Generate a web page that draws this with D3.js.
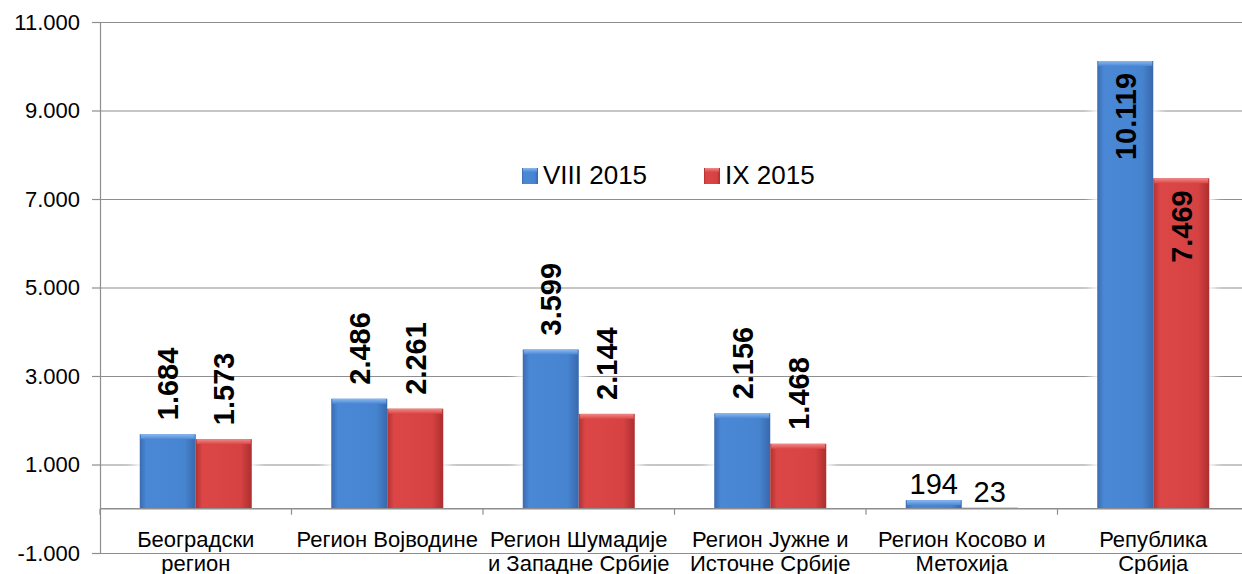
<!DOCTYPE html>
<html>
<head>
<meta charset="utf-8">
<script src="https://cdn.jsdelivr.net/npm/d3@7/dist/d3.min.js"></script>
<style>
  body { margin: 0; background: #fff; }
  svg { display: block; font-family: "Liberation Sans", Arial, sans-serif; }
  .grid line { stroke: #8e8e8e; stroke-width: 1.2; }
  .grid path { display: none; }
  .yaxis path, .yaxis line { stroke: #8e8e8e; stroke-width: 1.2; }
  .yaxis text { font-size: 22px; fill: #000; }
</style>
</head>
<body>
<svg id="chart" width="1242" height="574"></svg>
<script>
// --- Data -------------------------------------
const categories = ["Београдски регион", "Регион Војводине", "Регион Шумадије и Западне Србије",
  "Регион Јужне и Источне Србије", "Регион Косово и Метохија", "Република Србија"];
// how each category label wraps onto two lines
const categoryLines = [["Београдски", "регион"], ["Регион Војводине"], ["Регион Шумадије", "и Западне Србије"],
  ["Регион Јужне и", "Источне Србије"], ["Регион Косово и", "Метохија"], ["Република", "Србија"]];
const seriesNames = ["VIII 2015", "IX 2015"];
const aug2015 = [1684, 2486, 3599, 2156, 194, 10119];
const sep2015 = [1573, 2261, 2144, 1468, 23, 7469];
const yTicks = [-1000, 1000, 3000, 5000, 7000, 9000, 11000];

const svg = d3.select("#chart");
const margin = {top: 22, left: 100, right: 1249, bottom: 553};

// serbian style numbers: 10.119 (and a plain hyphen for negatives)
const fmtBase = d3.formatLocale({decimal: ",", thousands: ".", grouping: [3], currency: ["", ""], minus: "-"}).format(",d");
const fmt = v => fmtBase(v);

const x = d3.scaleBand().domain(categories).range([margin.left, margin.right]).padding(0);
const barW = 56;
const x1 = d3.scaleBand().domain(seriesNames)
  .range([x.bandwidth() / 2 - barW, x.bandwidth() / 2 + barW]);
const y = d3.scaleLinear().domain([-1000, 11000]).range([margin.bottom, margin.top]);

const rows = categories.map((c, i) => ({cat: c, i: i, values: [aug2015[i], sep2015[i]]}));
const flat = rows.flatMap(r => r.values.map((v, k) => ({v: v, k: k, s: seriesNames[k], i: r.i, cat: r.cat})));

// --- gradients & filters ----------------------
const defs = svg.append("defs");
const palette = {
  "VIII 2015": {stops: ["#3a6bb0", "#4a88d6", "#4784d0", "#3868ac"], top: "#8db8ee"},
  "IX 2015": {stops: ["#b03232", "#dc4646", "#d64242", "#ad2e2e"], top: "#ef8b88"}
};
seriesNames.forEach((s, k) => {
  const g = defs.append("linearGradient").attr("id", "grad" + k)
    .attr("x1", "0").attr("x2", "1").attr("y1", "0").attr("y2", "0");
  [0, 0.12, 0.8, 1].forEach((o, j) => g.append("stop").attr("offset", o).attr("stop-color", palette[s].stops[j]));
  const t = defs.append("linearGradient").attr("id", "top" + k)
    .attr("x1", "0").attr("x2", "0").attr("y1", "0").attr("y2", "1");
  t.append("stop").attr("offset", 0).attr("stop-color", palette[s].top);
  t.append("stop").attr("offset", 1).attr("stop-color", palette[s].stops[1]);
});
defs.append("filter").attr("id", "glow").attr("x", "-50%").attr("y", "-50%").attr("width", "200%").attr("height", "200%")
  .append("feGaussianBlur").attr("stdDeviation", 5);

// --- gridlines + axes --------------------------
svg.append("g").attr("class", "grid")
  .attr("transform", `translate(${margin.left},0)`)
  .call(d3.axisRight(y).tickValues(yTicks).tickSize(margin.right - margin.left).tickFormat(""));

svg.append("g").attr("class", "yaxis")
  .attr("transform", `translate(${margin.left},0)`)
  .call(d3.axisLeft(y).tickValues(yTicks).tickSize(8).tickSizeOuter(0).tickPadding(12).tickFormat(fmt));

const bx = d => x(d.cat) + x1(d.s);

// soft white halo behind bars (it washes out the gridlines) - drawn first
svg.append("g").selectAll("rect")
  .data(flat).join("rect")
  .attr("x", d => bx(d) - 6)
  .attr("y", d => y(d.v) - 6)
  .attr("width", barW + 12)
  .attr("height", d => y(0) - y(d.v) + 14)
  .attr("fill", "#fff").attr("opacity", 0.9)
  .attr("filter", "url(#glow)");

// --- bars --------------------------------------
const bars = svg.append("g").selectAll("g")
  .data(flat).join("g");

bars.append("rect")
  .attr("x", d => bx(d))
  .attr("y", d => y(d.v))
  .attr("width", barW)
  .attr("height", d => Math.max(1, y(0) - y(d.v)))
  .attr("fill", d => `url(#grad${d.k})`);

// lighter bevel on top of each bar
bars.filter(d => y(0) - y(d.v) > 3).append("rect")
  .attr("x", d => bx(d) + 1)
  .attr("y", d => y(d.v))
  .attr("width", barW - 2)
  .attr("height", d => Math.min(5, y(0) - y(d.v)))
  .attr("fill", d => `url(#top${d.k})`);

// zero line and category ticks
svg.append("line")
  .attr("x1", margin.left).attr("x2", margin.right)
  .attr("y1", y(0)).attr("y2", y(0))
  .attr("stroke", "#8e8e8e").attr("stroke-width", 1.5);
svg.append("g").selectAll("line")
  .data(categories.map(c => x(c)).concat([margin.right]))
  .join("line")
  .attr("x1", d => d).attr("x2", d => d)
  .attr("y1", y(0)).attr("y2", y(0) + 6)
  .attr("stroke", "#8e8e8e").attr("stroke-width", 1.2);

// --- value labels --------------------------------
bars.each(function(d) {
  const g = d3.select(this);
  const cx = bx(d) + barW / 2;
  if (d.v < 500) {
    g.append("text")
      .attr("x", cx).attr("y", y(d.v) - 6)
      .attr("text-anchor", "middle")
      .attr("font-size", 29)
      .text(fmt(d.v));
  } else if (d.i === categories.length - 1) {
    g.append("text")
      .attr("transform", `translate(${cx},${y(d.v) + 12}) rotate(-90)`)
      .attr("text-anchor", "end").attr("dy", "0.36em")
      .attr("font-size", 29).attr("font-weight", "bold")
      .text(fmt(d.v));
  } else {
    g.append("text")
      .attr("transform", `translate(${cx},${y(d.v) - 14}) rotate(-90)`)
      .attr("text-anchor", "start").attr("dy", "0.36em")
      .attr("font-size", 29).attr("font-weight", "bold")
      .text(fmt(d.v));
  }
});

// --- category labels ---------------------------
svg.append("g").selectAll("text")
  .data(rows).join("text")
  .attr("text-anchor", "middle")
  .attr("font-size", 22)
  .selectAll("tspan")
  .data(d => categoryLines[d.i].map(t => ({t: t, cat: d.cat})))
  .join("tspan")
  .attr("x", d => x(d.cat) + x.bandwidth() / 2)
  .attr("y", (d, j) => 547 + j * 24)
  .text(d => d.t);

// --- legend ------------------------------------
const legendX = [522, 704];
const legend = svg.append("g").selectAll("g")
  .data(seriesNames).join("g")
  .attr("transform", (d, k) => `translate(${legendX[k]},168)`);
legend.append("rect").attr("width", 16).attr("height", 16)
  .attr("fill", (d, k) => `url(#grad${k})`);
legend.append("rect").attr("x", 1).attr("width", 14).attr("height", 4)
  .attr("fill", (d, k) => `url(#top${k})`);
legend.append("text").attr("x", 21).attr("y", 16)
  .attr("font-size", 26).text(d => d);
</script>
</body>
</html>
